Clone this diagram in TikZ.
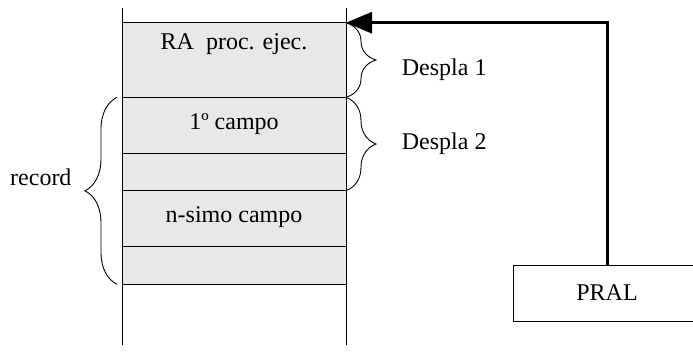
\documentclass[tikz,border=0pt]{standalone}
\usepackage{fontspec}
\setmainfont{Liberation Serif}
\usetikzlibrary{arrows.meta,decorations.pathreplacing}
\definecolor{cellgray}{RGB}{232,232,232}
\begin{document}
\begin{tikzpicture}[x=1pt,y=-1pt,
  every node/.style={font=\fontsize{24}{28}\selectfont},
  cell/.style={draw, fill=cellgray, line width=0.9pt, minimum width=224pt, inner sep=0pt, outer sep=0pt, anchor=north west},
  txt/.style={inner sep=0pt},
  bracestyle/.style={decorate, decoration={brace, amplitude=30pt}, line width=0.9pt},
  thin/.style={line width=0.9pt}]
\useasboundingbox (0,0) rectangle (693,356);
% memory cells
\node[cell, minimum height=74.6pt] (c1) at (122,22.7) {};
\node[cell, minimum height=56pt]   (c2) at (122,97.3) {};
\node[cell, minimum height=37.4pt] (c3) at (122,153.3) {};
\node[cell, minimum height=56pt]   (c4) at (122,190.7) {};
\node[cell, minimum height=37.6pt] (c5) at (122,246.7) {};
% stack side lines
\coordinate (tl) at (122,8);  \coordinate (bl) at (122,345);
\coordinate (tr) at (346,8);  \coordinate (br) at (346,345);
\draw[thin] (tl) -- (bl);
\draw[thin] (tr) -- (br);
% cell texts
\node[txt] (t1) at (234,44) {RA~~proc. ejec.};
\node[txt] (t2) at (234,123.7) {1º campo};
\node[txt] (t4) at (234,216.7) {n-simo campo};
% braces
\draw[bracestyle] (c1.north east) -- (c1.south east);
\draw[bracestyle] (c2.north east) -- (c3.south east);
\draw[bracestyle, decoration={brace, amplitude=32pt}] ([xshift=-5pt]c5.south west) -- ([xshift=-5pt]c2.north west);
\node[txt, anchor=base west] (d1) at (401.7,75) {Despla 1};
\node[txt, anchor=base west] (d2) at (401.7,149) {Despla 2};
\node[txt, anchor=base west] (rec) at (10,185.7) {record};
% PRAL box and pointer
\node[draw, thin, minimum width=186.7pt, minimum height=56pt, inner sep=0pt, outer sep=0pt] (pral) at (607,293) {PRAL};
\draw[line width=3pt, -{Triangle[length=26pt,width=21pt]}] (pral.north) |- (c1.north east);
\end{tikzpicture}
\end{document}
